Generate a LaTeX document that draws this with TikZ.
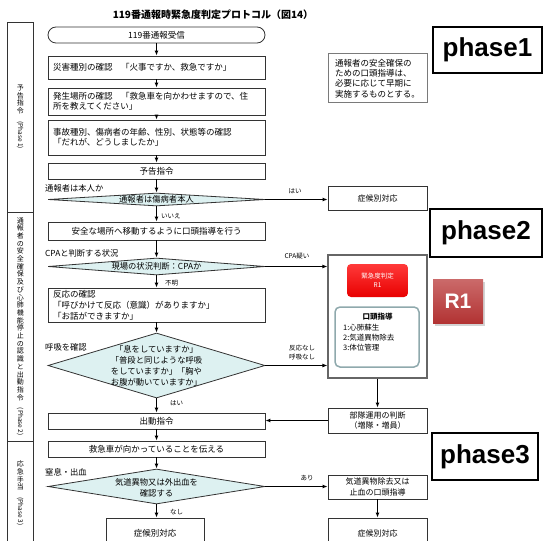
\documentclass[tikz,border=0pt]{standalone}
\usepackage{fontspec}
\setmainfont{Noto Sans CJK JP}
\newfontfamily\arialf{Liberation Sans}
\usetikzlibrary{shapes.geometric,arrows.meta,shadows}
\definecolor{diafill}{HTML}{DDF1F1}
\definecolor{edge}{HTML}{333333}
\definecolor{notegray}{HTML}{7A7A7A}
\definecolor{guide}{HTML}{8FA9AD}
\definecolor{badgetop}{HTML}{CB6A6A}
\definecolor{badgebot}{HTML}{B23333}
\definecolor{redtop}{HTML}{FF3A3A}
\definecolor{redbot}{HTML}{E80000}
\newcommand\fsz[2]{\fontsize{#1}{#2}\selectfont}
\begin{document}
\begin{tikzpicture}[x=1pt,y=-1pt,
 box/.style={draw=edge, line width=0.8pt, inner sep=0pt, font=\fsz{8.5}{10.5}, text=black},
 mainbox/.style={box, minimum width=217},
 sidebox/.style={box, minimum width=99, align=center, font=\fsz{8}{10.5}},
 dia/.style={diamond, draw=edge, line width=0.8pt, fill=diafill, inner sep=0pt, minimum width=217},
 diatext/.style={font=\fsz{8.3}{11}, align=center, inner sep=0pt},
 arr/.style={-{Latex[length=5pt,width=4pt]}, line width=1.1pt, black},
 lab/.style={font=\fsz{8.3}{10}, inner sep=0pt, anchor=west},
 slab/.style={font=\fsz{6.5}{9}, inner sep=0pt, align=center},
 phasebox/.style={draw=black, line width=2.5pt, fill=white, inner sep=0pt, font=\arialf\bfseries\fsz{26}{30}},
 colbox/.style={draw=edge, line width=0.8pt, minimum width=25.5, inner sep=0pt, font=\fsz{7}{7.7}, align=center},
]
\useasboundingbox (0,0) rectangle (548,540);
\clip (0,0) rectangle (548,540);

% title
\node[font=\bfseries\fsz{10}{12}] (title) at (213,15) {119番通報時緊急度判定プロトコル（図14）};

% left column
\node[colbox, minimum height=190] (c1) at (20.25,117) {予\\告\\指\\令\\{\fsz{6.5}{7}\rotatebox{-90}{(Phase 1)}}};
\node[colbox, minimum height=229] (c2) at (20.25,326.5) {通\\報\\者\\の\\安\\全\\確\\保\\及\\び\\心\\肺\\機\\能\\停\\止\\の\\認\\識\\と\\出\\動\\指\\令\\{\fsz{6.5}{7}\rotatebox{-90}{(Phase 2)}}};
\node[colbox, minimum height=104] (c3) at (20.25,493) {応\\急\\手\\当\\{\fsz{6.5}{7}\rotatebox{-90}{(Phase 3)}}};

% main column
\node[mainbox, minimum height=16, rounded corners=8pt] (n0) at (156.5,35) {119番通報受信};
\node[mainbox, minimum height=23, text width=207, align=left] (n1) at (156.5,67.5) {災害種別の確認　「火事ですか、救急ですか」};
\node[mainbox, minimum height=27, text width=207, align=left] (n2) at (156.5,101.5) {発生場所の確認　「救急車を向かわせますので、住\\所を教えてください」};
\node[mainbox, minimum height=35, text width=207, align=left] (n3) at (156.5,137.5) {事故種別、傷病者の年齢、性別、状態等の確認\\「だれが、どうしましたか」};
\node[mainbox, minimum height=16] (n4) at (156.5,171) {予告指令};
\node[lab] (l1) at (45,188) {通報者は本人か};
\node[dia, minimum height=13] (d1) at (156.5,199.5) {};
\node[diatext] (d1t) at (156.5,199.5) {通報者は傷病者本人};
\node[slab, anchor=west] (l2) at (161,216) {いいえ};
\node[mainbox, minimum height=18] (n5) at (156.5,231) {安全な場所へ移動するように口頭指導を行う};
\node[slab] (l3) at (295,191) {はい};
\node[sidebox, minimum height=24] (s1) at (377.5,198) {症候別対応};

\node[lab] (l4) at (45,253) {CPAと判断する状況};
\node[dia, minimum height=17] (d2) at (156.5,266.5) {};
\node[diatext] (d2t) at (156.5,266.5) {現場の状況判断：CPAか};
\node[slab] (l5) at (297,256) {CPA疑い};
\node[slab, anchor=west] (l6) at (165,283) {不明};
\node[mainbox, minimum height=34, text width=207, align=left, font=\fsz{8.5}{11}] (n6) at (156.5,305) {反応の確認\\「呼びかけて反応（意識）がありますか」\\「お話ができますか」};
\node[lab] (l7) at (45,347) {呼吸を確認};
\node[dia, minimum height=65] (d3) at (156.5,365.5) {};
\node[diatext] (d3t) at (156.5,366) {「息をしていますか」\\「普段と同じような呼吸\\をしていますか」「胸や\\お腹が動いていますか」};
\node[slab] (l8) at (302,352.5) {反応なし\\呼吸なし};
\node[slab, anchor=west] (l9) at (170,403) {はい};
\node[mainbox, minimum height=16] (n7) at (156.5,421) {出動指令};
\node[mainbox, minimum height=16] (n8) at (156.5,449) {救急車が向かっていることを伝える};
\node[lab] (l10) at (45,472) {窒息・出血};
\node[dia, minimum height=35] (d4) at (156.5,486.5) {};
\node[diatext] (d4t) at (156.5,487.5) {気道異物又は外出血を\\確認する};
\node[slab] (l11) at (307,478) {あり};
\node[slab, anchor=west] (l12) at (170,512) {なし};
\node[box, minimum width=98, minimum height=30] (n9) at (155,533) {症候別対応};

% right column
\node[draw=notegray, line width=1pt, minimum width=99, minimum height=49, inner sep=0pt, align=left, font=\fsz{8.5}{10.3}] (note) at (377.5,78.5) {通報者の安全確保の\\ための口頭指導は、\\必要に応じて早期に\\実施するものとする。};
\node[draw=gray!80!black, line width=1.2pt, fill=white, minimum width=99, minimum height=123] (r1) at (377.5,316.5) {};
\node[rounded corners=4pt, top color=redtop, bottom color=redbot, minimum width=61, minimum height=33, inner sep=0pt, text=white, align=center, font=\fsz{6.5}{8.5}] (rb) at (377.5,280.5) {緊急度判定\\R1};
\node[rounded corners=5pt, draw=guide, line width=1.5pt, fill=white, minimum width=84, minimum height=60] (g) at (377,337) {};
\node[font=\bfseries\fsz{7.5}{9}, inner sep=0pt] (gt1) at (377.5,317) {口頭指導};
\node[font=\fsz{7.5}{10}, inner sep=0pt, align=left, anchor=west] (gt2) at (343,338) {1:心肺蘇生\\2:気道異物除去\\3:体位管理};
\node[sidebox, minimum height=25] (s2) at (377.5,420.5) {部隊運用の判断\\（増隊・増員）};
\node[sidebox, minimum height=24] (s3) at (377.5,487) {気道異物除去又は\\止血の口頭指導};
\node[sidebox, minimum height=30] (s4) at (377.5,533) {症候別対応};

% phase labels
\node[phasebox, minimum width=109, minimum height=46] (p1) at (487.5,50) {phase1};
\node[phasebox, minimum width=112, minimum height=48] (p2) at (486,233) {phase2};
\node[phasebox, minimum width=106, minimum height=47] (p3) at (485,456.5) {phase3};
\node[top color=badgetop, bottom color=badgebot, drop shadow={shadow xshift=2pt, shadow yshift=-3pt, opacity=0.35}, minimum width=50, minimum height=44, inner sep=0pt, text=white, font=\arialf\bfseries\fsz{21}{24}] (badge) at (458,301) {R1};

% connectors
\draw[arr] (n0) -- (n1);
\draw[arr] (n1) -- (n2);
\draw[arr] (n2) -- (n3);
\draw[arr] (n3) -- (n4);
\draw[arr] (n4) -- (d1);
\draw[arr] (d1) -- (n5);
\draw[arr] (d1.east) -- (d1.east -| s1.west);
\draw[arr] (n5) -- (d2);
\draw[arr] (d2) -- (n6);
\draw[arr] (d2.east) -- (d2.east -| r1.west);
\draw[arr] (n6) -- (d3);
\draw[arr] (d3.east) -- (d3.east -| r1.west);
\draw[arr] (d3) -- (n7);
\draw[arr] (r1) -- (s2);
\draw[arr] (s2.west) -- (s2.west -| n7.east);
\draw[arr] (n7) -- (n8);
\draw[arr] (n8) -- (d4);
\draw[arr] (d4.east) -- (d4.east -| s3.west);
\draw[arr] (d4.south) -- (d4.south |- n9.north);
\draw[arr] (s3) -- (s4);
\end{tikzpicture}
\end{document}
